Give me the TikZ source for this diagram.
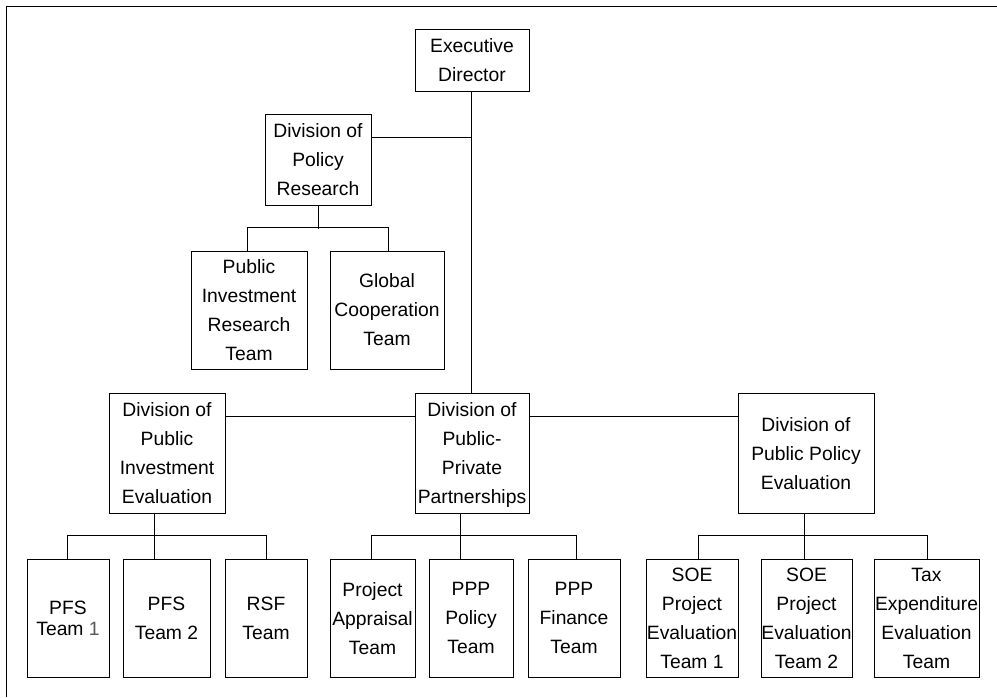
\documentclass[tikz,border=0pt]{standalone}
\usepackage{fontspec}
\setmainfont{Liberation Sans}
\begin{document}
\begin{tikzpicture}[x=1pt,y=-1pt,
  unit/.style={draw, line width=1pt, align=center, inner sep=0pt,
    text depth=0pt,
    font=\fontsize{19.3}{29}\selectfont},
  link/.style={line width=1pt}]
\useasboundingbox (0,0) rectangle (997,697);
\fill[white] (0,0) rectangle (997,697);
% outer frame
\draw[line width=1pt] (6.5,697) -- (6.5,6.5) -- (997,6.5);

% top level
\node[unit, minimum width=114pt, minimum height=62pt] (ed) at (472,60) {Executive\\Director};
\node[unit, minimum width=106pt, minimum height=91pt] (dpr) at (318,159.5) {Division of\\Policy\\Research};
\node[unit, minimum width=116pt, minimum height=118pt] (pirt) at (249,310) {Public\\Investment\\Research\\Team};
\node[unit, minimum width=114pt, minimum height=118pt] (gct) at (387,310) {Global\\Cooperation\\Team};

% divisions
\node[unit, minimum width=116pt, minimum height=120pt] (dpie) at (167,453) {Division of\\Public\\Investment\\Evaluation};
\node[unit, minimum width=114pt, minimum height=120pt] (dppp) at (472,453) {Division of\\Public-\\Private\\Partnerships};
\node[unit, minimum width=136pt, minimum height=120pt] (dppe) at (806,453) {Division of\\Public Policy\\Evaluation};

% teams
\node[unit, minimum width=82pt, minimum height=118pt, font=\fontsize{19.3}{21}\selectfont] (pfs1) at (68,618) {PFS\\Team {\color{black!65}1}};
\node[unit, minimum width=87pt, minimum height=118pt] (pfs2) at (166.5,618) {PFS\\Team 2};
\node[unit, minimum width=82pt, minimum height=118pt] (rsf) at (266,618) {RSF\\Team};
\node[unit, minimum width=85pt, minimum height=118pt] (pat) at (372.5,618) {Project\\Appraisal\\Team};
\node[unit, minimum width=84pt, minimum height=118pt] (ppt) at (471,618) {PPP\\Policy\\Team};
\node[unit, minimum width=92pt, minimum height=118pt] (pft) at (574,618) {PPP\\Finance\\Team};
\node[unit, minimum width=92pt, minimum height=118pt] (soe1) at (692,618) {SOE\\Project\\Evaluation\\Team 1};
\node[unit, minimum width=91pt, minimum height=118pt] (soe2) at (806.5,618) {SOE\\Project\\Evaluation\\Team 2};
\node[unit, minimum width=105pt, minimum height=118pt] (tax) at (926.5,618) {Tax\\Expenditure\\Evaluation\\Team};

% junction points
\coordinate (jpr) at (471.5,137);
\coordinate (jdiv) at (0,416);
\coordinate (jpie) at (154.3,0);
\coordinate (jppp) at (460.3,0);
\coordinate (jppe) at (804.3,0);

% executive spine
\draw[link] (jpr |- ed.south) -- (jpr |- dppp.north);
\draw[link] (dpr.east |- jpr) -- (jpr);

% policy research teams
\draw[link] (dpr.south) -- ++(0,23.3);
\draw[link] ([xshift=-1.7pt]pirt.north) -- ++(0,-22.6) -| ([xshift=1.3pt]gct.north);

% division row
\draw[link] (dpie.east |- jdiv) -- (dppp.west |- jdiv);
\draw[link] (dppp.east |- jdiv) -- (dppe.west |- jdiv);

% public investment evaluation teams
\draw[link] (jpie |- dpie.south) -- (jpie |- pfs2.north);
\draw[link] ([xshift=-0.7pt]pfs1.north) -- ++(0,-23.3) -| (rsf.north);

% PPP teams
\draw[link] (jppp |- dppp.south) -- (jppp |- ppt.north);
\draw[link] ([xshift=-1.2pt]pat.north) -- ++(0,-23.3) -| ([xshift=2.7pt]pft.north);

% public policy evaluation teams
\draw[link] (jppe |- dppe.south) -- (jppe |- soe2.north);
\draw[link] ([xshift=6.3pt]soe1.north) -- ++(0,-23.3) -| ([xshift=0.8pt]tax.north);
\end{tikzpicture}
\end{document}
